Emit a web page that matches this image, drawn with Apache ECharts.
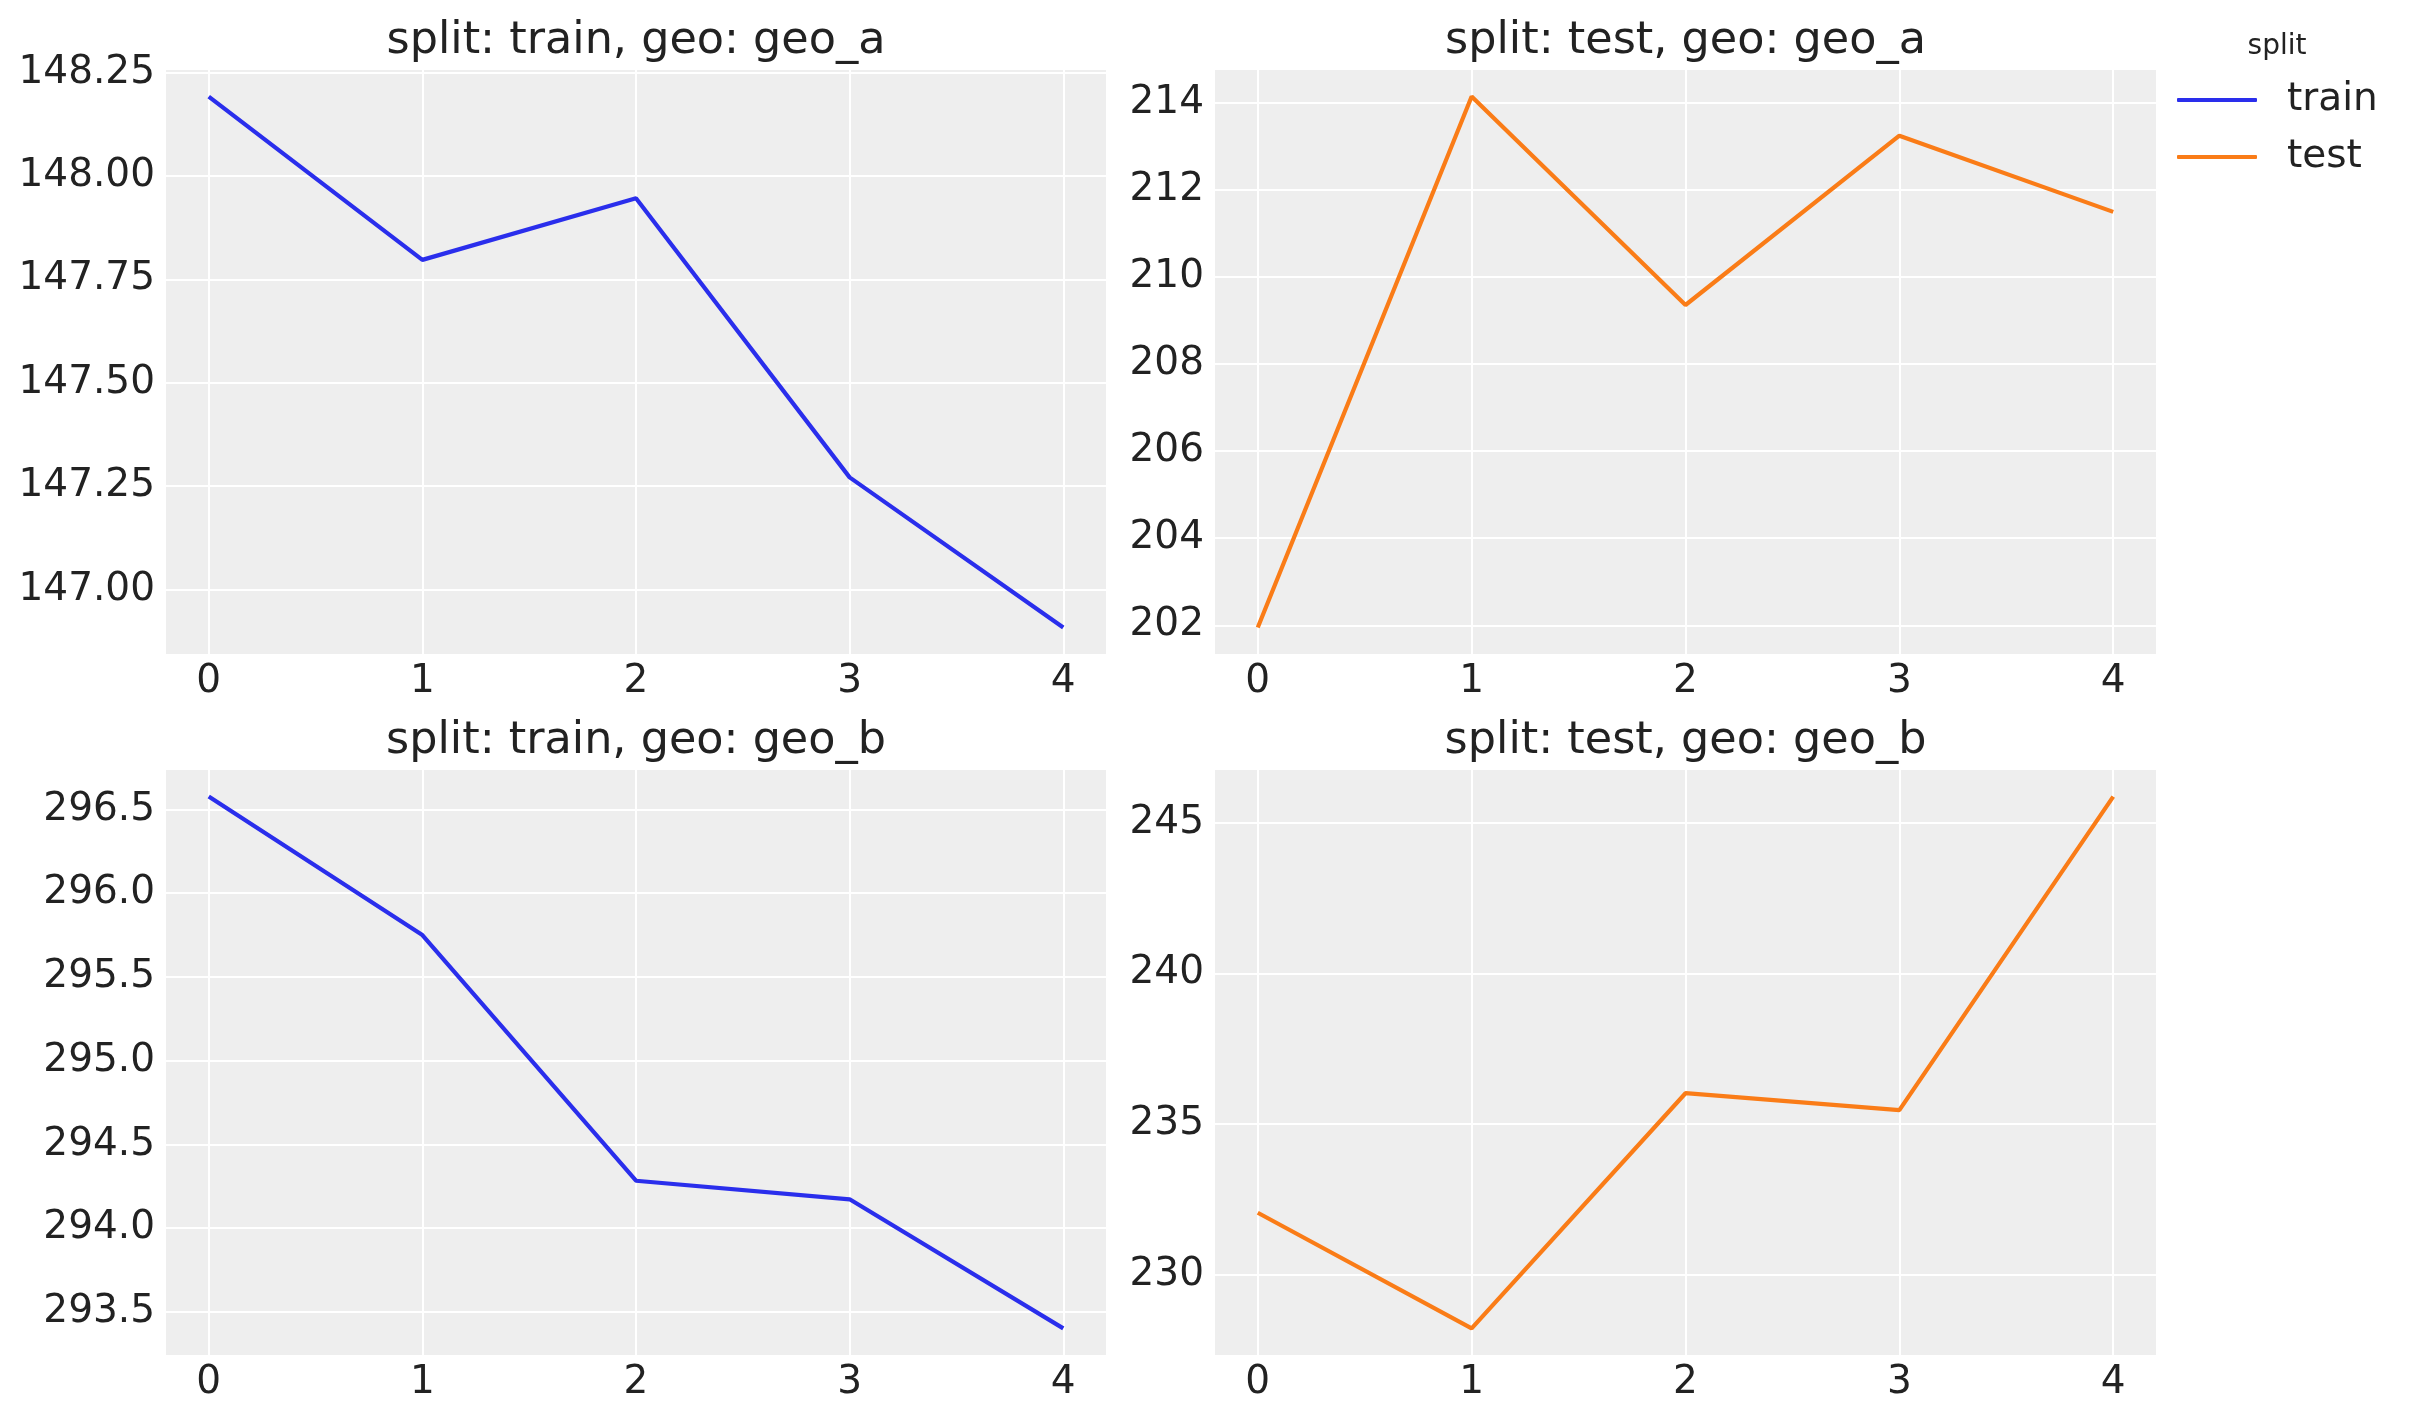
<!DOCTYPE html>
<html>
<head>
<meta charset="utf-8">
<script src="https://cdn.jsdelivr.net/npm/echarts@6/dist/echarts.min.js"></script>
<style>
  html, body { margin: 0; padding: 0; background: #fff; }
  #chart { width: 2412px; height: 1423px; }
</style>
</head>
<body>
<div id="chart"></div>
<script>
// x positions shared by all panels
const steps = [0, 1, 2, 3, 4]

// panel values
const trainGeoA = [148.192, 147.797, 147.946, 147.271, 146.908]
const testGeoA = [201.95, 214.15, 209.36, 213.25, 211.50]
const trainGeoB = [296.577, 295.750, 294.283, 294.172, 293.401]
const testGeoB = [232.05, 228.21, 236.02, 235.46, 245.87]

// tick labels per panel
const ticksTrainA = [147.00, 147.25, 147.50, 147.75, 148.00, 148.25]
const ticksTestA = [202, 204, 206, 208, 210, 212, 214]
const ticksTrainB = [293.5, 294.0, 294.5, 295.0, 295.5, 296.0, 296.5]
const ticksTestB = [230, 235, 240, 245]

const titles = [
    "split: train, geo: geo_a",
    "split: test, geo: geo_a",
    "split: train, geo: geo_b",
    "split: test, geo: geo_b"
]

const FONT = "DejaVu Sans"
const TEXT = "#222222"
const BLUE = "#2a2eec"
const ORANGE = "#fa7c17"

// panel boxes [left, top, width, height]
const boxes = [
    [166, 70, 940, 584],
    [1215, 70, 941, 584],
    [166, 770, 940, 585],
    [1215, 770, 941, 585]
]

function pad5(e) {
    return (e.max - e.min) * 0.05
}

function xAxis(i) {
    return {
        type: "value", gridIndex: i, min: -0.2, max: 4.2,
        axisLine: { show: false },
        axisTick: { show: false, customValues: steps },
        axisLabel: {
            customValues: steps, margin: 8,
            fontFamily: FONT, fontSize: 39, color: TEXT
        },
        splitLine: { show: true, lineStyle: { color: "#ffffff", width: 2 } }
    }
}

function yAxis(i, ticks, digits) {
    return {
        type: "value", gridIndex: i, scale: true,
        min: e => e.min - pad5(e),
        max: e => e.max + pad5(e),
        axisLine: { show: false },
        axisTick: { show: false, customValues: ticks },
        axisLabel: {
            customValues: ticks, margin: 11,
            fontFamily: FONT, fontSize: 39, color: TEXT,
            formatter: v => v.toFixed(digits)
        },
        splitLine: { show: true, lineStyle: { color: "#ffffff", width: 2 } }
    }
}

function lineSeries(name, i, values, color) {
    return {
        name: name, type: "line", xAxisIndex: i, yAxisIndex: i,
        data: steps.map((x, k) => [x, values[k]]),
        symbol: "none", color: color,
        lineStyle: { color: color, width: 4.2 },
        animation: false
    }
}

let chart = echarts.init(document.getElementById("chart"), null, { renderer: "canvas" })

let option = {
    backgroundColor: "#ffffff",
    animation: false,
    grid: boxes.map(b => ({
        left: b[0], top: b[1], width: b[2], height: b[3],
        show: true, backgroundColor: "#eeeeee", borderWidth: 0,
        containLabel: false
    })),
    title: titles.map((t, i) => ({
        text: t,
        left: boxes[i][0] + boxes[i][2] / 2,
        top: boxes[i][1] - 51,
        textAlign: "center",
        padding: 0,
        textStyle: { fontFamily: FONT, fontSize: 44.5, fontWeight: "normal", color: TEXT }
    })).concat([{
        text: "split",
        left: 2277, top: 33, textAlign: "center", padding: 0,
        textStyle: { fontFamily: FONT, fontSize: 28, fontWeight: "normal", color: TEXT }
    }]),
    legend: {
        data: ["train", "test"],
        orient: "vertical",
        left: 2177, top: 80, padding: 0,
        icon: "roundRect",
        itemWidth: 80, itemHeight: 4, itemGap: 17,
        textStyle: {
            fontFamily: FONT, fontSize: 39, color: TEXT, lineHeight: 40,
            padding: [0, 0, 0, 25]
        }
    },
    xAxis: [0, 1, 2, 3].map(xAxis),
    yAxis: [
        yAxis(0, ticksTrainA, 2),
        yAxis(1, ticksTestA, 0),
        yAxis(2, ticksTrainB, 1),
        yAxis(3, ticksTestB, 0)
    ],
    series: [
        lineSeries("train", 0, trainGeoA, BLUE),
        lineSeries("test", 1, testGeoA, ORANGE),
        lineSeries("train", 2, trainGeoB, BLUE),
        lineSeries("test", 3, testGeoB, ORANGE)
    ]
}

chart.setOption(option)
</script>
</body>
</html>
